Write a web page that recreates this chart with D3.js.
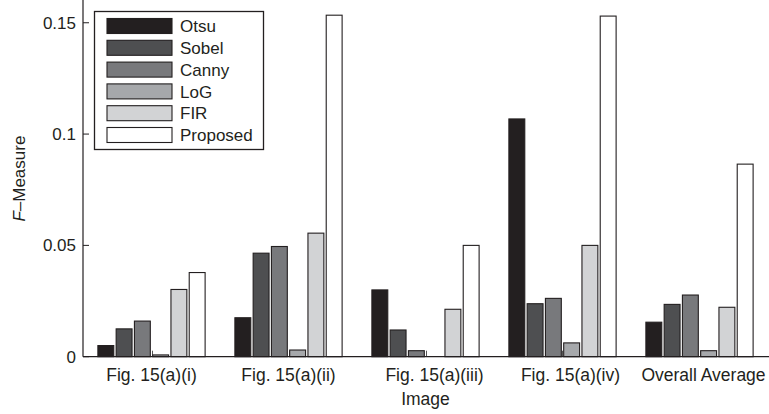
<!DOCTYPE html>
<html>
<head>
<meta charset="utf-8">
<script src="https://cdn.jsdelivr.net/npm/d3@7"></script>
<style>
  html, body { margin: 0; padding: 0; background: #fff; }
  svg { display: block; font-family: "Liberation Sans", Arial, Helvetica, sans-serif; }
</style>
</head>
<body>
<svg id="chart" width="769" height="414"></svg>
<script>
// Images evaluated
const images = ["Fig. 15(a)(i)", "Fig. 15(a)(ii)", "Fig. 15(a)(iii)", "Fig. 15(a)(iv)", "Overall Average"];
// Methods compared
const methods = ["Otsu", "Sobel", "Canny", "LoG", "FIR", "Proposed"];
// F-measure per method, one value per image
const otsu     = [0.0050, 0.0175, 0.0300, 0.1068, 0.0155];
const sobel    = [0.0125, 0.0465, 0.0120, 0.0238, 0.0235];
const canny    = [0.0160, 0.0495, 0.0027, 0.0262, 0.0277];
const logEdge  = [0.0008, 0.0030, 0.0000, 0.0062, 0.0027];
const fir      = [0.0302, 0.0555, 0.0213, 0.0500, 0.0222];
const proposed = [0.0378, 0.1534, 0.0500, 0.1530, 0.0865];
const yTicks = [0, 0.05, 0.1, 0.15];
const yTickLabels = ["0", "0.05", "0.1", "0.15"];

const seriesValues = [otsu, sobel, canny, logEdge, fir, proposed];
const fills = ["#231f20", "#4e4f51", "#78797c", "#a6a8ab", "#d2d3d5", "#ffffff"];
const ink = "#231f20";

const svg = d3.select("#chart");
const plotLeft = 83, plotRight = 768, plotTop = 0.5, plotBottom = 356.7;

// Group positions 1..5 with half a unit of margin on each side
const x = d3.scaleLinear().domain([0.5, images.length + 0.5]).range([plotLeft, plotRight]);
const y = d3.scaleLinear().domain([0, 0.16]).range([plotBottom, plotTop]);

const unit = x(2) - x(1);
const slot = unit * 0.8 / methods.length;
const barW = slot * 0.87;

// x tick marks (inward), drawn first so bars sit on top of them
svg.append("g").selectAll("line").data(images).join("line")
  .attr("x1", (d, i) => Math.round(x(i + 1)) + 0.5)
  .attr("x2", (d, i) => Math.round(x(i + 1)) + 0.5)
  .attr("y1", plotBottom).attr("y2", plotBottom - 6)
  .attr("stroke", "#555").attr("stroke-width", 1);

// bars
const groups = svg.append("g").selectAll("g").data(methods).join("g")
  .attr("fill", (d, j) => fills[j]);
groups.selectAll("rect")
  .data((m, j) => seriesValues[j].map((v, i) => ({ v, i, j })).filter(d => d.v > 0))
  .join("rect")
  .attr("x", d => x(d.i + 1) + (d.j - (methods.length - 1) / 2) * slot - barW / 2)
  .attr("width", barW)
  .attr("y", d => y(d.v))
  .attr("height", d => y(0) - y(d.v))
  .attr("stroke", ink)
  .attr("stroke-width", 1.1);

// axis lines
svg.append("line").attr("x1", plotLeft).attr("x2", plotLeft).attr("y1", 0).attr("y2", plotBottom)
  .attr("stroke", ink).attr("stroke-width", 1.2);
svg.append("line").attr("x1", plotLeft).attr("x2", 769).attr("y1", plotBottom).attr("y2", plotBottom)
  .attr("stroke", ink).attr("stroke-width", 1.2);

// y axis ticks (inward) and labels
const yAxis = svg.append("g");
yAxis.selectAll("line").data(yTicks).join("line")
  .attr("x1", plotLeft).attr("x2", plotLeft + 6)
  .attr("y1", d => y(d)).attr("y2", d => y(d))
  .attr("stroke", ink).attr("stroke-width", 1);
yAxis.selectAll("text").data(yTicks).join("text")
  .attr("x", plotLeft - 7).attr("y", d => y(d))
  .attr("dy", "0.35em")
  .attr("text-anchor", "end")
  .attr("font-size", 17).attr("fill", ink)
  .text((d, i) => yTickLabels[i]);

// x tick labels, with a slight hand-placed nudge for the wider labels
const labelNudge = [0, 0, 9, 8, 4];
svg.append("g").selectAll("text").data(images).join("text")
  .attr("x", (d, i) => x(i + 1) + labelNudge[i])
  .attr("y", 381)
  .attr("text-anchor", "middle")
  .attr("font-size", 17.5).attr("fill", ink)
  .text(d => d);

// axis titles
svg.append("text")
  .attr("x", (plotLeft + plotRight) / 2).attr("y", 405)
  .attr("text-anchor", "middle").attr("font-size", 17.5).attr("fill", ink)
  .text("Image");

const yTitle = svg.append("text")
  .attr("transform", `translate(25, ${(plotTop + plotBottom) / 2}) rotate(-90)`)
  .attr("text-anchor", "middle").attr("font-size", 17).attr("fill", ink);
yTitle.append("tspan").attr("font-style", "italic").text("F");
yTitle.append("tspan").text("–Measure");

// legend
const lg = svg.append("g");
lg.append("rect")
  .attr("x", 94.5).attr("y", 11.5).attr("width", 169).attr("height", 138)
  .attr("fill", "#fff").attr("stroke", ink).attr("stroke-width", 1.3);
const rows = lg.selectAll("g.row").data(methods).join("g")
  .attr("class", "row")
  .attr("transform", (d, j) => `translate(0, ${18.5 + j * 21.8})`);
rows.append("rect")
  .attr("x", 107).attr("y", 0).attr("width", 65).attr("height", 15)
  .attr("fill", (d, j) => fills[j]).attr("stroke", ink).attr("stroke-width", 1.1);
rows.append("text")
  .attr("x", 180).attr("y", 7.5).attr("dy", "0.36em")
  .attr("font-size", 17).attr("fill", ink)
  .text(d => d);
</script>
</body>
</html>
